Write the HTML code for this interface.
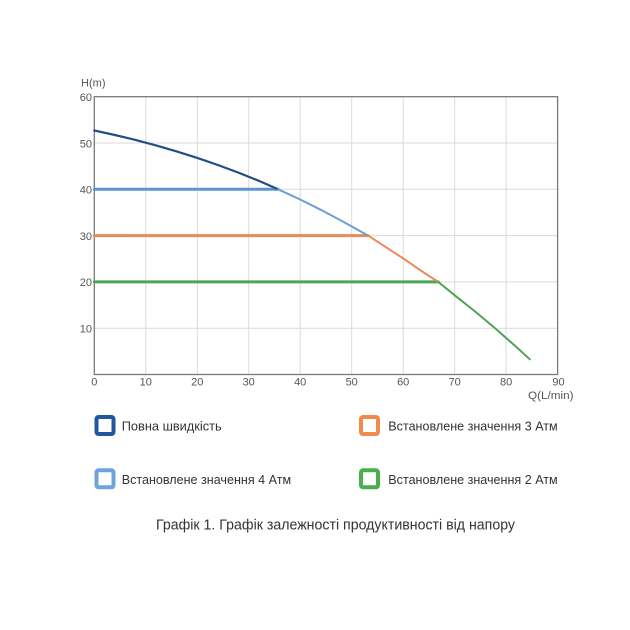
<!DOCTYPE html>
<html><head><meta charset="utf-8"><style>
html,body{margin:0;padding:0;background:#fff;}
svg{display:block;}
text{font-family:"Liberation Sans","DejaVu Sans",sans-serif;}
</style></head><body>
<svg width="630" height="630" viewBox="0 0 630 630" xmlns="http://www.w3.org/2000/svg">
<rect width="630" height="630" fill="#fff"/>
<g stroke="#dadada" stroke-width="1">
<line x1="145.8" y1="97" x2="145.8" y2="374.5"/>
<line x1="197.3" y1="97" x2="197.3" y2="374.5"/>
<line x1="248.7" y1="97" x2="248.7" y2="374.5"/>
<line x1="300.2" y1="97" x2="300.2" y2="374.5"/>
<line x1="351.7" y1="97" x2="351.7" y2="374.5"/>
<line x1="403.2" y1="97" x2="403.2" y2="374.5"/>
<line x1="454.7" y1="97" x2="454.7" y2="374.5"/>
<line x1="506.1" y1="97" x2="506.1" y2="374.5"/>
<line x1="94.3" y1="328.2" x2="557.6" y2="328.2"/>
<line x1="94.3" y1="281.9" x2="557.6" y2="281.9"/>
<line x1="94.3" y1="235.6" x2="557.6" y2="235.6"/>
<line x1="94.3" y1="189.3" x2="557.6" y2="189.3"/>
<line x1="94.3" y1="143.0" x2="557.6" y2="143.0"/>
</g>
<rect x="94.3" y="96.7" width="463.3" height="277.8" fill="none" stroke="#7a7a7a" stroke-width="1.3"/>
<g fill="none" stroke-linecap="round" stroke-linejoin="round">
<line x1="94.3" y1="189.3" x2="278.1" y2="189.3" stroke="#5b95d0" stroke-width="3"/>
<line x1="94.3" y1="235.6" x2="368.2" y2="235.6" stroke="#ea8a5b" stroke-width="3"/>
<line x1="94.3" y1="281.9" x2="438.2" y2="281.9" stroke="#4ea552" stroke-width="3"/>
<polyline points="94.3,130.5 114.9,135.0 135.5,139.9 156.1,145.4 176.7,151.4 197.3,157.9 217.9,165.0 238.4,172.6 259.0,180.9 278.1,189.3" stroke="#234d86" stroke-width="2.2"/>
<polyline points="278.1,189.3 300.2,199.5 320.8,209.8 341.4,220.8 368.2,235.6" stroke="#6a9fd4" stroke-width="2"/>
<polyline points="368.2,235.6 382.6,245.1 403.2,258.4 423.8,272.6 438.2,281.9" stroke="#eb8a5b" stroke-width="2"/>
<polyline points="438.2,281.9 454.7,295.3 475.3,311.6 495.8,328.9 516.4,347.0 529.8,359.3" stroke="#4ea552" stroke-width="2"/>
</g>
<g fill="#555" font-size="11">
<text x="92" y="101" text-anchor="end">60</text>
<text x="92" y="147.3" text-anchor="end">50</text>
<text x="92" y="193.6" text-anchor="end">40</text>
<text x="92" y="239.9" text-anchor="end">30</text>
<text x="92" y="286.2" text-anchor="end">20</text>
<text x="92" y="332.5" text-anchor="end">10</text>
<text x="94.3" y="385.5" text-anchor="middle">0</text>
<text x="145.8" y="385.5" text-anchor="middle">10</text>
<text x="197.3" y="385.5" text-anchor="middle">20</text>
<text x="248.7" y="385.5" text-anchor="middle">30</text>
<text x="300.2" y="385.5" text-anchor="middle">40</text>
<text x="351.7" y="385.5" text-anchor="middle">50</text>
<text x="403.2" y="385.5" text-anchor="middle">60</text>
<text x="454.7" y="385.5" text-anchor="middle">70</text>
<text x="506.1" y="385.5" text-anchor="middle">80</text>
<text x="558.5" y="385.5" text-anchor="middle">90</text>
<text x="81" y="86.5" textLength="24.5" lengthAdjust="spacingAndGlyphs">H(m)</text>
<text x="528" y="399" textLength="45.5" lengthAdjust="spacingAndGlyphs">Q(L/min)</text>
</g>
<g fill="none" stroke-width="4">
<rect x="96.5" y="417" width="17" height="17" rx="2" stroke="#1f58a0"/>
<rect x="361" y="417" width="17" height="17" rx="2" stroke="#f08a4d"/>
<rect x="96.5" y="470.3" width="17" height="17" rx="2" stroke="#6da5d9"/>
<rect x="361" y="470.3" width="17" height="17" rx="2" stroke="#47b04c"/>
</g>
<g fill="#333" font-size="13">
<text x="121.7" y="430.7" textLength="100" lengthAdjust="spacingAndGlyphs">Повна швидкість</text>
<text x="388.3" y="430.7" textLength="169.4" lengthAdjust="spacingAndGlyphs">Встановлене значення 3 Атм</text>
<text x="121.7" y="483.8" textLength="169.4" lengthAdjust="spacingAndGlyphs">Встановлене значення 4 Атм</text>
<text x="388.3" y="483.8" textLength="169.4" lengthAdjust="spacingAndGlyphs">Встановлене значення 2 Атм</text>
</g>
<text x="156" y="529.3" font-size="14.5" fill="#333" textLength="359" lengthAdjust="spacingAndGlyphs">Графік 1. Графік залежності продуктивності від напору</text>
</svg>
</body></html>
